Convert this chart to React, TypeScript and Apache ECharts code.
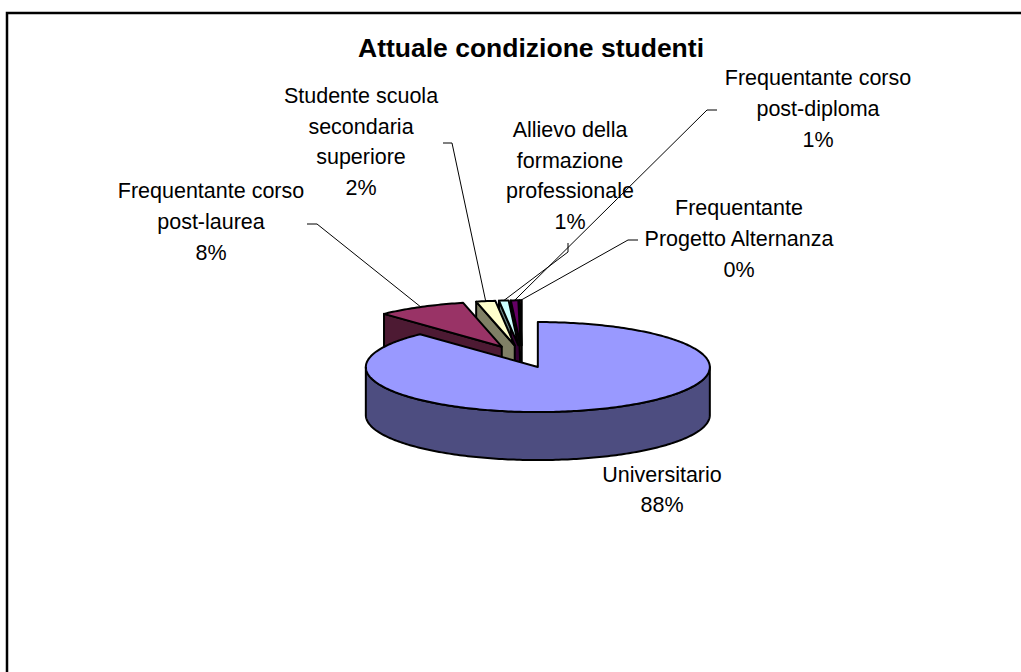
import React, { useEffect, useRef } from "react";
import * as echarts from "echarts";

// ---- data ----
const categories = [
  "Universitario",
  "Frequentante corso post-laurea",
  "Studente scuola secondaria superiore",
  "Allievo della formazione professionale",
  "Frequentante corso post-diploma",
  "Frequentante Progetto Alternanza",
];
const labelLines = [
  ["Universitario"],
  ["Frequentante corso", "post-laurea"],
  ["Studente scuola", "secondaria", "superiore"],
  ["Allievo della", "formazione", "professionale"],
  ["Frequentante corso", "post-diploma"],
  ["Frequentante", "Progetto Alternanza"],
];
const values = [88.0, 8.4, 1.8, 0.9, 0.7, 0.2];
const topColors = ["#9999FF", "#993366", "#FFFFCC", "#CCFFFF", "#660066", "#FF8080"];
const sideColors = ["#4D4D80", "#4D1A33", "#808066", "#668080", "#330033", "#804040"];
const titleText = "Attuale condizione studenti";

// ---- layout (not data) ----
const CX = 522;
const CY = 356.6;
const RX = 172;
const RY = 45;
const DEPTH = 48;
const EXPLODE = 43;
const FONT = '"Liberation Sans", Arial, sans-serif';
const labelPos = [
  [662, 490],
  [211, 222],
  [361, 142],
  [570, 176],
  [818, 109],
  [739, 239],
];
const leaderStart: (number[][] | null)[] = [
  null,
  [[307, 224], [317, 224]],
  [[443, 143], [452, 143]],
  [[568, 243], [568, 252]],
  [[717, 110], [707, 110]],
  [[638, 240], [628, 240]],
];

export default function App() {
  const ref = useRef<HTMLDivElement>(null);
  useEffect(() => {
    if (!ref.current) return;
    const chart = echarts.init(ref.current, null, { renderer: "svg" });
    const total = values.reduce((a, b) => a + b, 0);
    const k = RY / RX;

    const renderItem = (params: any, api: any) => {
      const i = params.dataIndex;
      const v = api.value(0);
      let cum = 0;
      for (let j = 0; j < i; j++) cum += values[j];
      const a1 = (cum / total) * Math.PI * 2;
      const a2 = ((cum + v) / total) * Math.PI * 2;
      const am = (a1 + a2) / 2;
      const cx = CX + EXPLODE * Math.sin(am);
      const cy = CY - EXPLODE * Math.cos(am) * k;
      const pt = (a: number, dz: number) => [cx + RX * Math.sin(a), cy - RY * Math.cos(a) + dz];
      const arc = (s: number, e: number, dz: number) => {
        const n = Math.max(2, Math.ceil(Math.abs(e - s) / (Math.PI / 180)));
        const out: number[][] = [];
        for (let t = 0; t <= n; t++) out.push(pt(s + ((e - s) * t) / n, dz));
        return out;
      };
      const front = -Math.cos(am);
      const base = Math.round((front + 1) * 100);
      const children: any[] = [];
      const edgeStyle = { stroke: "#000", lineWidth: 2, lineJoin: "round" };
      // radial walls
      if (Math.sin(a1) < -1e-6) {
        children.push({
          type: "polygon",
          z2: base,
          shape: { points: [[cx, cy], pt(a1, 0), pt(a1, DEPTH), [cx, cy + DEPTH]] },
          style: { fill: sideColors[i], ...edgeStyle },
        });
      }
      if (Math.sin(a2) > 1e-6) {
        children.push({
          type: "polygon",
          z2: base,
          shape: { points: [[cx, cy], pt(a2, 0), pt(a2, DEPTH), [cx, cy + DEPTH]] },
          style: { fill: sideColors[i], ...edgeStyle },
        });
      }
      // outer front wall
      const b1 = Math.max(a1, Math.PI / 2);
      const b2 = Math.min(a2, (Math.PI * 3) / 2);
      if (b2 > b1) {
        const pts = arc(b1, b2, 0).concat(arc(b2, b1, DEPTH));
        children.push({
          type: "polygon",
          z2: base,
          shape: { points: pts },
          style: { fill: sideColors[i], ...edgeStyle },
        });
      }
      // top face
      children.push({
        type: "polygon",
        z2: base + 1,
        shape: { points: [[cx, cy]].concat(arc(a1, a2, 0)) },
        style: { fill: topColors[i], ...edgeStyle },
      });
      // label
      const pct = Math.round((v / total) * 100);
      children.push({
        type: "text",
        z2: 1000,
        x: labelPos[i][0],
        y: labelPos[i][1],
        style: {
          text: labelLines[i].join("\n") + "\n" + pct + "%",
          align: "center",
          verticalAlign: "middle",
          fontSize: 21.5,
          fontFamily: FONT,
          lineHeight: 30.6,
          fill: "#000",
        },
      });
      const ls = leaderStart[i];
      if (ls) {
        children.push({
          type: "polyline",
          z2: 999,
          shape: { points: ls.concat([pt(am, 0)]) },
          style: { stroke: "#000", lineWidth: 1, fill: "none" },
        });
      }
      return { type: "group", children };
    };

    chart.setOption({
      animation: false,
      backgroundColor: "#fff",
      graphic: [
        {
          type: "rect",
          shape: { x: 7, y: 13, width: 1300, height: 900 },
          style: { fill: "none", stroke: "#000", lineWidth: 2.5 },
          silent: true,
        },
        {
          type: "text",
          x: 531,
          y: 48,
          style: {
            text: titleText,
            align: "center",
            verticalAlign: "middle",
            fontSize: 26.5,
            fontWeight: "bold",
            fontFamily: FONT,
            fill: "#000",
          },
        },
      ],
      series: [
        {
          type: "custom",
          coordinateSystem: "none",
          renderItem,
          data: values.map((v, i) => ({ name: categories[i], value: [v] })),
        },
      ],
    });
    return () => chart.dispose();
  }, []);
  return (
    <div
      ref={ref}
      style={{ position: "fixed", left: 0, top: 0, width: 1021, height: 672 }}
    />
  );
}
